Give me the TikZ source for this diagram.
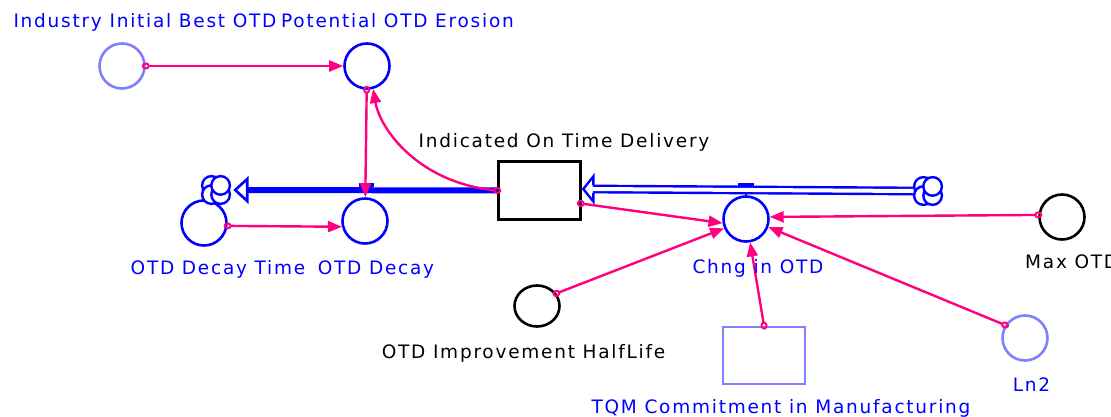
\documentclass[tikz,border=0pt]{standalone}
\usepackage{fontspec}
\newfontfamily\lblfont{DejaVu Sans}[LetterSpace=9.5]
\usetikzlibrary{shapes.geometric,arrows.meta,calc}
\definecolor{sfblue}{RGB}{0,0,255}
\definecolor{sflight}{RGB}{128,128,255}
\definecolor{sfpink}{RGB}{255,0,128}
\begin{document}
\begin{tikzpicture}[x=1pt,y=-1pt,
  auxb/.style={circle, draw=sfblue, line width=2.6pt, minimum size=45pt, inner sep=0pt},
  auxl/.style={circle, draw=sflight, line width=2.6pt, minimum size=45pt, inner sep=0pt},
  auxk/.style={circle, draw=black, line width=2.6pt, minimum size=45pt, inner sep=0pt},
  stockbox/.style={rectangle, draw=black, line width=2.6pt, minimum width=82pt, minimum height=58pt, inner sep=0pt},
  ghostbox/.style={rectangle, draw=sflight, line width=2.8pt, minimum width=82pt, minimum height=57pt, inner sep=0pt},
  cloudnode/.style={circle, minimum size=30pt, inner sep=0pt},
  puff/.style={draw=sfblue, fill=white, line width=2.4pt},
  valvebar/.style={rectangle, fill=sfblue, minimum width=15pt, minimum height=3.5pt, inner sep=0pt},
  conn/.style={draw=sfpink, line width=2.4pt, shorten <=-4pt,
    {Circle[open, length=8pt, width=7pt, line width=2pt]}-{Triangle[length=14pt, width=11pt]}},
  lbl/.style={font={\lblfont\fontsize{18.5}{22}\selectfont}, inner sep=0pt, anchor=base},
  lblb/.style={lbl, text=sfblue},
  lblk/.style={lbl, text=black}
]
\useasboundingbox (0,0) rectangle (1111,417);

% nodes
\node[auxl] (ind) at (122,66) {};
\node[auxb] (pot) at (367,66) {};
\node[auxb] (dtime) at (204,223) {};
\node[auxb] (decay) at (365,221) {};
\node[stockbox] (stock) at (539.5,190.5) {};
\node[auxb] (chng) at (746,219) {};
\node[auxk] (maxotd) at (1062,217) {};
\node[ellipse, draw=black, line width=2.6pt, minimum width=45pt, minimum height=41pt, inner sep=0pt] (half) at (537,306) {};
\node[ghostbox] (tqm) at (764,355.5) {};
\node[auxl] (ln2) at (1025,338) {};
\node[cloudnode] (cloudL) at (216,190) {};
\node[cloudnode] (cloudR) at (928,191) {};

% clouds (sources / sinks)
\foreach \cl in {cloudL,cloudR}{
  \foreach \a in {-135,135,45,-45}{
    \draw[puff] (\cl.center) ++(\a:6.5) circle (9.3);
  }
}

% outflow pipe (OTD Decay)
\draw[draw=sfblue, line width=6pt] (stock.west) -- ($(cloudL.east)+(16,0)$);
\draw[draw=sfblue, line width=2.6pt, fill=white, line join=miter]
  ($(cloudL.east)+(16,-11)$) -- ($(cloudL.east)+(4,0)$) -- ($(cloudL.east)+(16,11)$) -- cycle;
\node[valvebar] (valveD) at (366,185) {};

% inflow pipe (Chng in OTD)
\node[valvebar, minimum width=16pt] (valveC) at (746,184.5) {};
\draw[draw=sfblue, line width=2.4pt] (valveC.south) -- (chng.north);
\draw[draw=sfblue, line width=2.4pt, double=white, double distance=4pt]
  (cloudR.west) -- ($(stock.east)+(11,-1.5)$);
\draw[draw=sfblue, line width=2.4pt, line join=miter]
  ($(stock.east)+(11.5,-5.5)$) -- ($(stock.east)+(11.5,-14)$) -- ($(stock.east)+(1.5,-1.5)$)
  -- ($(stock.east)+(11.5,11)$) -- ($(stock.east)+(11.5,2.5)$);

% connectors
\draw[conn] (ind) -- (pot);
\draw[conn] (pot) -- (decay);
\draw[conn] (dtime.-7) -- (decay.194);
\draw[conn] (stock.west) .. controls +(-78,-8) and +(7,41) .. (pot.-75);
\draw[conn] ($(stock.east)+(-1,13)$) -- (chng.190);
\draw[conn] (half.33) -- (chng.203);
\draw[conn] (tqm.north) -- (chng.280);
\draw[conn] (ln2.147) -- (chng.340);
\draw[conn] (maxotd.175) -- (chng.5);

% labels
\node[lblb] (lind) at (145,28) {Industry Initial Best OTD};
\node[lblb] (lpot) at (397.5,28) {Potential OTD Erosion};
\node[lblk] (lstock) at (564,147.5) {Indicated On Time Delivery};
\node[lblb] (ldtime) at (218,274) {OTD Decay Time};
\node[lblb] (ldecay) at (376,274) {OTD Decay};
\node[lblb] (lchng) at (758,273) {Chng in OTD};
\node[lblk, anchor=base west] (lmax) at (1025,268) {Max OTD};
\node[lblk] (lhalf) at (523.5,358) {OTD Improvement HalfLife};
\node[lblb] (ltqm) at (781,413) {TQM Commitment in Manufacturing};
\node[lblb] (lln2) at (1031.5,391.5) {Ln2};
\end{tikzpicture}
\end{document}
